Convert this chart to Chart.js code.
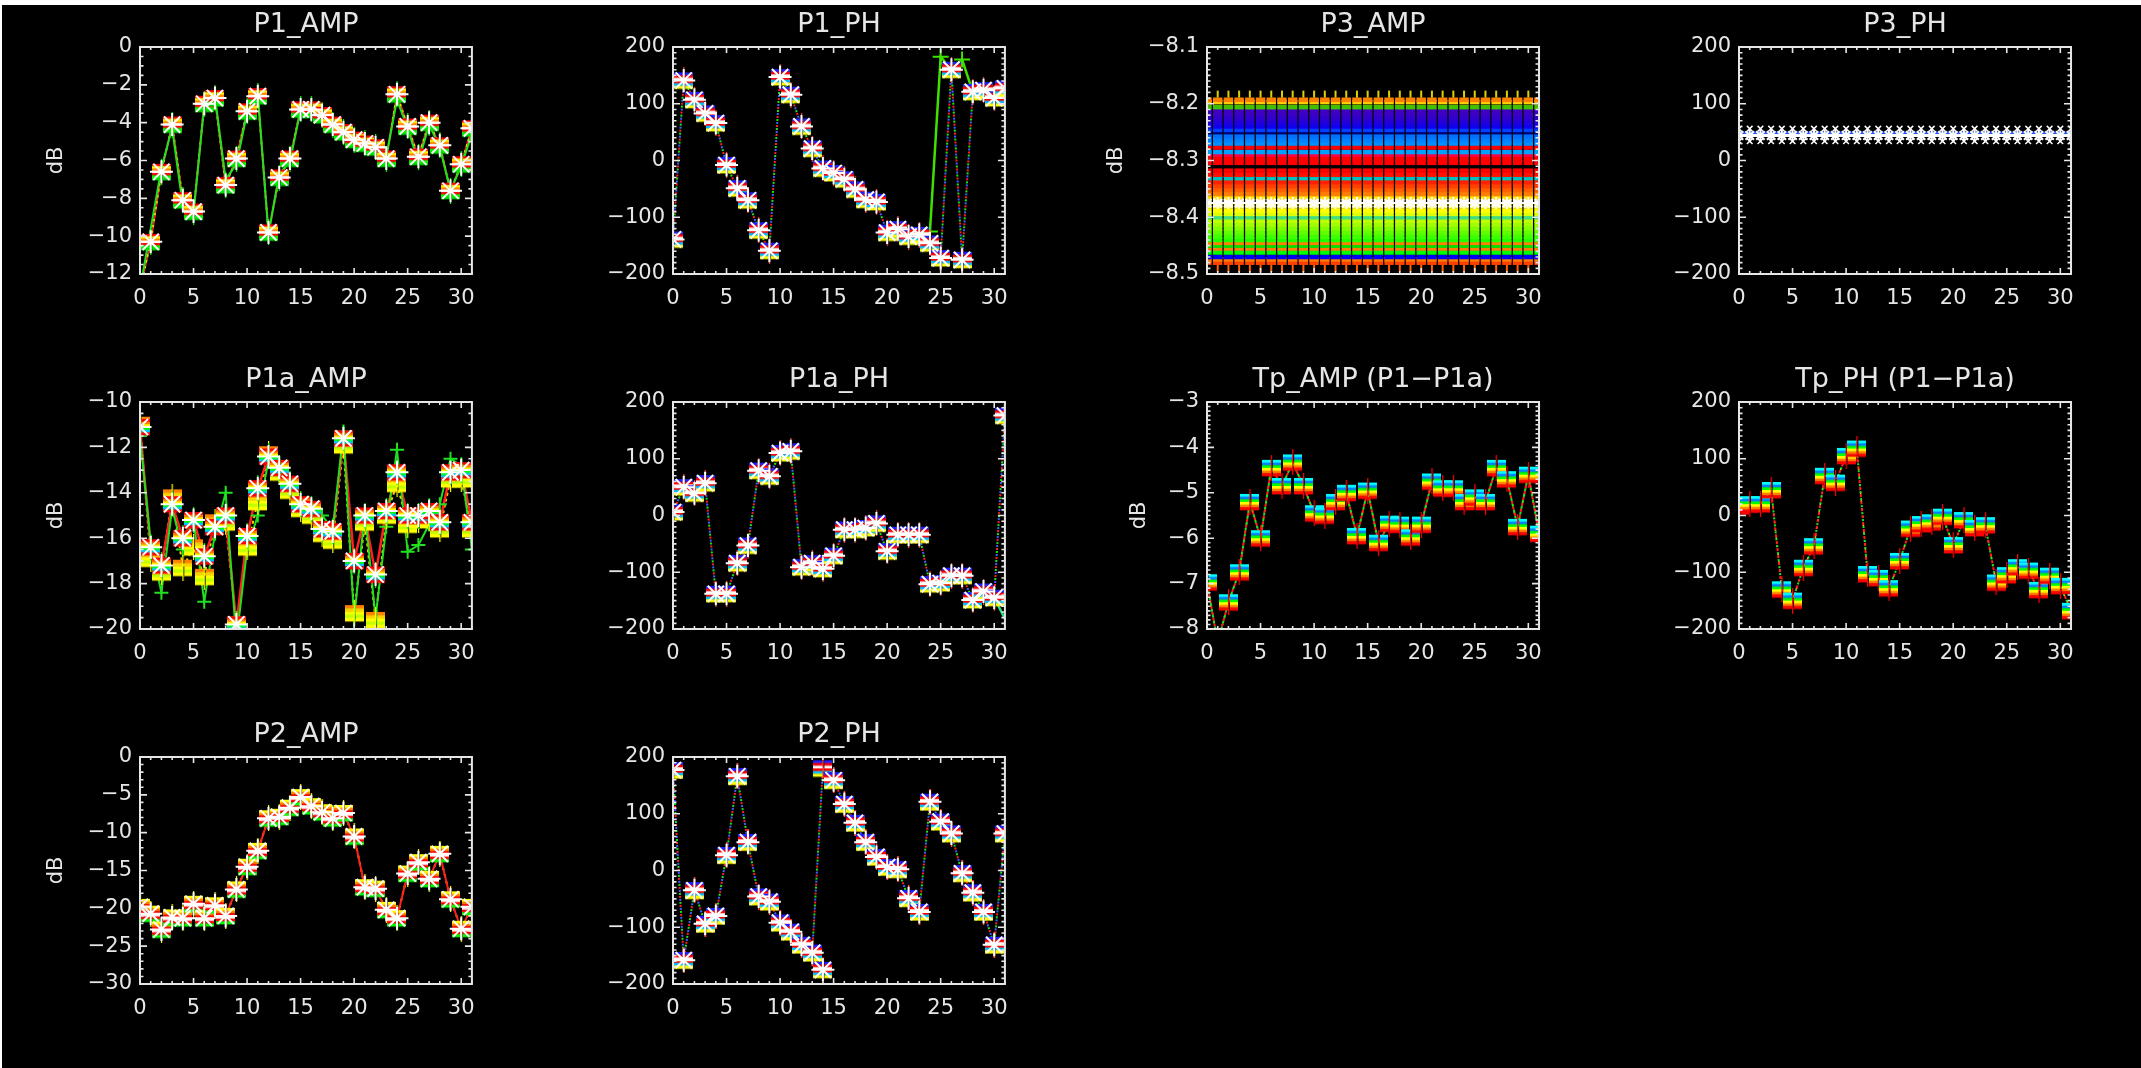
<!DOCTYPE html>
<html>
<head>
<meta charset="utf-8">
<script src="https://cdn.jsdelivr.net/npm/chart.js@4.4.1/dist/chart.umd.min.js"></script>
<style>
html, body { margin: 0; padding: 0; background: #fff; width: 2141px; height: 1068px; overflow: hidden; }
#bg { position: absolute; left: 2px; top: 5px; right: 0; bottom: 0; background: #000; }
canvas { position: absolute; }
</style>
</head>
<body>
<div id="bg"></div>
<script>
// ---- data ----
const X = [0,1,2,3,4,5,6,7,8,9,10,11,12,13,14,15,16,17,18,19,20,21,22,23,24,25,26,27,28,29,30,31];
const XTICKS = [0,5,10,15,20,25,30];

const YT_P1_AMP = [-12,-10,-8,-6,-4,-2,0];
const YT_PH = [-200,-100,0,100,200];
const YT_P3_AMP = [-8.5,-8.4,-8.3,-8.2,-8.1];
const YT_P1A_AMP = [-20,-18,-16,-14,-12,-10];
const YT_TP_AMP = [-8,-7,-6,-5,-4,-3];
const YT_P2_AMP = [-30,-25,-20,-15,-10,-5,0];

const P1_AMP = [-12.8,-10.3,-6.6,-4.1,-8.1,-8.7,-3.0,-2.7,-7.3,-5.9,-3.4,-2.6,-9.8,-6.9,-5.9,-3.3,-3.3,-3.6,-4.1,-4.5,-4.9,-5.1,-5.3,-5.9,-2.5,-4.2,-5.8,-4.0,-5.2,-7.6,-6.2,-4.3];
const P1_AMP_G = [-12.8,-9.6,-6.4,-4.3,-8.4,-8.8,-3.1,-2.6,-7.0,-6.2,-3.5,-2.4,-9.9,-6.7,-6.1,-3.3,-3.3,-3.6,-4.1,-4.4,-4.9,-5.1,-5.3,-5.8,-2.8,-4.3,-6.1,-4.1,-5.3,-7.6,-6.3,-4.6];

const P1_PH = [-139,141,107,83,66,-8,-49,-70,-123,-159,147,116,60,21,-14,-22,-33,-51,-69,-73,-127,-121,-134,-131,-146,-172,160,-175,121,124,110,127];
const P1_PH_G = [null,null,null,null,null,null,null,null,null,null,null,null,null,null,null,null,null,null,null,null,null,null,null,-131,-125,183,160,178,121,null,null,null];

const P3_AMP_LEVELS = [-8.193,-8.197,-8.206,-8.212,-8.219,-8.226,-8.233,-8.240,-8.246,-8.250,-8.257,-8.264,-8.270,-8.277,-8.285,-8.290,-8.297,-8.304,-8.318,-8.325,-8.331,-8.338,-8.345,-8.352,-8.359,-8.366,-8.373,-8.380,-8.388,-8.394,-8.400,-8.406,-8.413,-8.420,-8.427,-8.434,-8.440,-8.445,-8.450,-8.455,-8.462,-8.470,-8.474,-8.480];
const P3_AMP_STAR = -8.375;
const P3_AMP_TOP = -8.183;
const P3_AMP_BOT = -8.490;

const P3_PH_LEVELS = [56, 49, 44, 34];

const P1A_AMP = [-11.1,-16.4,-17.2,-14.5,-16.0,-15.2,-16.8,-15.5,-15.0,-19.8,-15.9,-13.8,-12.4,-12.9,-13.6,-14.5,-14.7,-15.6,-15.7,-11.6,-17.0,-15.0,-17.6,-14.8,-13.1,-15.0,-15.0,-14.8,-15.3,-13.1,-13.0,-15.3];
const P1A_AMP_G = [-11.5,-16.2,-18.4,-14.7,-16.5,-15.2,-18.8,-15.8,-14.0,-20.5,-16.5,-15.0,-12.6,-13.2,-13.8,-14.5,-14.6,-15.0,-15.6,-11.3,-19.6,-14.8,-19.5,-15.5,-12.1,-16.6,-16.3,-15.4,-14.5,-12.5,-12.8,-16.5];
const P1A_AMP_Y = [-11.0,-16.9,-17.5,-14.2,-17.3,-16.4,-17.7,-15.3,-15.3,-19.8,-16.4,-14.4,-12.3,-13.1,-13.9,-14.7,-15.0,-15.8,-16.1,-11.9,-19.3,-15.3,-19.6,-15.0,-13.6,-15.4,-15.2,-15.1,-15.6,-13.4,-13.4,-15.6];

const P1A_PH = [6,50,39,57,-138,-138,-84,-53,79,69,110,113,-91,-84,-94,-71,-25,-25,-22,-14,-63,-34,-34,-34,-121,-119,-106,-106,-149,-134,-145,176];
const P1A_PH_G = [null,null,null,null,null,null,null,null,null,null,null,null,null,null,null,null,null,null,null,null,null,null,null,null,null,null,null,null,null,null,-145,-182];

const TP_AMP = [-6.97,-8.3,-7.41,-6.75,-5.2,-6.0,-4.45,-4.85,-4.33,-4.85,-5.45,-5.5,-5.2,-5.0,-5.95,-4.95,-6.1,-5.68,-5.7,-5.98,-5.7,-4.75,-4.9,-4.9,-5.2,-5.1,-5.2,-4.45,-4.7,-5.75,-4.6,-5.9];
const TP_PH = [16,20,20,45,-130,-150,-92,-54,70,58,105,118,-103,-110,-128,-80,-23,-15,-12,-2,-52,-8,-22,-17,-118,-105,-91,-97,-131,-106,-124,-168];

const P2_AMP = [-19.8,-20.7,-22.8,-21.2,-21.3,-19.4,-21.3,-19.6,-21.0,-17.5,-14.5,-12.4,-8.1,-7.9,-6.7,-5.3,-6.5,-7.3,-8.1,-7.4,-10.5,-17.2,-17.4,-20.2,-21.3,-15.4,-13.9,-16.1,-12.8,-18.8,-22.7,-19.8];
const P2_PH = [177,-158,-35,-94,-80,27,166,50,-46,-55,-92,-108,-131,-145,-175,159,117,84,50,24,6,2,-49,-73,121,86,65,-5,-39,-73,-131,65];
const P2_PH_R = [177,-158,-35,-94,-80,27,166,50,-46,-55,-92,-108,-131,-145,180,159,117,84,50,24,6,2,-49,-73,121,86,65,-5,-39,-73,-131,65];

// ---- styles / layout ----
const FG = '#e6e6e6';
const COL_LEFT = [140, 673, 1207, 1739];
const ROW_TOP = [47, 402, 757];
const PLOT_W = 337, PLOT_H = 227, LEFT_W = 140, TOP_H = 47, BOTTOM_H = 60, RIGHT_PAD = 10;
const P3_AMP_COLORS = ['#ff8000','#ffd000','#40c000','#4000c0','#3c00c8','#3000d0','#2000e0','#1000f0','#0040ff','#000070','#0070ff','#0080ff','#0090ff','#ff0000','#00a0ff','#ff0040','#ff0000','#ff0000','#ff0000','#ff1000','#00c0c0','#ff2000','#ff4000','#ff6000','#ff8000','#ffe000','#ffffff','#ffff60','#ffff00','#e0ff00','#40e080','#c0ff00','#a0ff00','#80ff00','#60ff00','#40ff00','#20ff00','#ff8000','#00e000','#ff8000','#00ff00','#0000ff','#ff8000','#ff4000'];
const P3_PH_COLORS = ['#ffffff','#2050ff','#ffffff','#ffffff'];

Chart.defaults.font.family = '"DejaVu Sans", sans-serif';
Chart.defaults.font.size = 21;
Chart.defaults.color = FG;

const pts = vals => X.map((x, i) => ({ x: x, y: vals[i] }));
const flat = v => X.map(x => ({ x: x, y: v }));

// rainbow striped square marker, like many overplotted colour channels
function stripes(cols, vcol) {
  const c = document.createElement('canvas');
  c.width = 19; c.height = 26;
  const g = c.getContext('2d');
  const h = 16 / cols.length;
  cols.forEach((col, i) => { g.fillStyle = col; g.fillRect(0, 5 + i * h, 19, h + 0.4); });
  g.clearRect(8.5, 5, 2, 16);
  g.fillStyle = vcol;
  g.fillRect(9, 0, 1.2, 26);
  return c;
}

const IMG_P1A = stripes(['#ff0000','#ffff00','#ff8000','#ffffff','#ff0000','#00ff00','#00e000'], '#00ff00');
const IMG_PH = stripes(['#2020ff','#ff0000','#ffffff','#ff0000','#00c0ff','#ffff00'], '#ff4040');
const IMG_P2A = stripes(['#ffff00','#ff8000','#ff0000','#ffffff','#ff0000','#00ff00'], '#ffff00');
const IMG_TP = stripes(['#00ffff','#0080ff','#00ff00','#ffff00','#ff8000','#ff0000'], '#ff0000');
const IMG_P1AA = stripes(['#ff0000','#ff8000','#ffff00','#00ff00','#00c0ff','#ff0000'], '#00ff00');
const IMG_P1AY = stripes(['#ff8000','#ffd000','#ffff00','#c0ff00','#ffff00'], '#ffff00');

function lineDs(vals, color, width, dash, off) {
  return { data: pts(vals), showLine: true, borderColor: color, borderWidth: width,
    borderDash: dash || [], borderDashOffset: off || 0, pointRadius: 0, clip: 0, order: 3 };
}
function boxDs(vals, img) {
  return { data: pts(vals), showLine: false, pointStyle: img, pointRadius: 8, clip: 0, order: 2 };
}
function starDs(vals, r) {
  return { data: pts(vals), showLine: false, pointStyle: 'star', pointRadius: r || 11.5,
    pointBorderColor: '#ffffff', pointBackgroundColor: '#ffffff', pointBorderWidth: 2, clip: 0, order: 1 };
}
function dotted(vals) {
  return [
    lineDs(vals, '#ff2020', 2, [2, 7], 0),
    lineDs(vals, '#20e020', 2, [2, 7], 3),
    lineDs(vals, '#4060ff', 2, [2, 7], 6)
  ];
}

const idlFrame = {
  id: 'idlFrame',
  afterDatasetsDraw(chart, args, o) {
    const ctx = chart.ctx, a = chart.chartArea;
    const xs = chart.scales.x, ys = chart.scales.y;
    ctx.save();
    ctx.strokeStyle = FG;
    ctx.lineWidth = 2;
    ctx.strokeRect(a.left, a.top, a.right - a.left, a.bottom - a.top);
    ctx.lineWidth = 1.6;
    ctx.beginPath();
    for (let v = 0; v <= 31; v++) {
      const p = xs.getPixelForValue(v);
      const len = v % 5 === 0 ? 6 : 3;
      ctx.moveTo(p, a.bottom); ctx.lineTo(p, a.bottom - len);
      ctx.moveTo(p, a.top); ctx.lineTo(p, a.top + len);
    }
    const n = Math.round((ys.max - ys.min) / o.minor);
    for (let i = 0; i <= n; i++) {
      const v = ys.min + i * o.minor;
      const q = (v - ys.min) / o.major;
      const len = Math.abs(q - Math.round(q)) < 1e-6 ? 7 : 3.5;
      const p = ys.getPixelForValue(v);
      ctx.moveTo(a.left, p); ctx.lineTo(a.left + len, p);
      ctx.moveTo(a.right, p); ctx.lineTo(a.right - len, p);
    }
    ctx.stroke();
    ctx.fillStyle = FG;
    ctx.textAlign = 'center';
    ctx.textBaseline = 'middle';
    ctx.font = '27px "DejaVu Sans"';
    ctx.fillText(o.title, (a.left + a.right) / 2, a.top - 22);
    if (o.ylabel) {
      ctx.translate(a.left - o.dbOff, (a.top + a.bottom) / 2);
      ctx.rotate(-Math.PI / 2);
      ctx.font = '21px "DejaVu Sans"';
      ctx.fillText(o.ylabel, 0, 0);
    }
    ctx.restore();
  }
};

function panel(col, row, spec) {
  const c = document.createElement('canvas');
  c.width = LEFT_W + PLOT_W + RIGHT_PAD;
  c.height = TOP_H + PLOT_H + BOTTOM_H;
  c.style.left = (COL_LEFT[col] - LEFT_W) + 'px';
  c.style.top = (ROW_TOP[row] - TOP_H) + 'px';
  document.body.appendChild(c);
  const yt = spec.yTicks;
  new Chart(c, {
    type: 'scatter',
    data: { datasets: spec.datasets },
    plugins: [idlFrame],
    options: {
      responsive: false, animation: false, devicePixelRatio: 1,
      layout: { padding: { top: TOP_H, right: RIGHT_PAD, left: 0, bottom: 0 } },
      plugins: {
        legend: { display: false }, tooltip: { enabled: false },
        idlFrame: { title: spec.title, ylabel: spec.ylabel, dbOff: spec.dbOff, major: spec.major, minor: spec.minor }
      },
      scales: {
        x: {
          type: 'linear', min: 0, max: 31,
          afterFit: s => { s.height = BOTTOM_H; },
          afterBuildTicks: s => { s.ticks = XTICKS.map(v => ({ value: v })); },
          grid: { display: false, drawTicks: false }, border: { display: false },
          ticks: { padding: 12, maxRotation: 0, autoSkip: false }
        },
        y: {
          type: 'linear', min: yt[0], max: yt[yt.length - 1],
          afterFit: s => { s.width = LEFT_W; },
          afterBuildTicks: s => { s.ticks = yt.map(v => ({ value: v })); },
          grid: { display: false, drawTicks: false }, border: { display: false },
          ticks: { padding: 8, autoSkip: false, callback: v => String(v).replace('-', '\u2212') }
        }
      }
    }
  });
}

// P1_AMP
panel(0, 0, {
  title: 'P1_AMP', ylabel: 'dB', dbOff: 83, yTicks: YT_P1_AMP, major: 2, minor: 0.5,
  datasets: [
    starDs(P1_AMP), boxDs(P1_AMP, IMG_P1A),
    lineDs(P1_AMP_G, '#20e020', 2),
    lineDs(P1_AMP, '#ff2020', 2, [3, 3], 0),
    lineDs(P1_AMP, '#ffd000', 2, [3, 3], 3)
  ]
});

// P1_PH
panel(1, 0, {
  title: 'P1_PH', yTicks: YT_PH, major: 100, minor: 10,
  datasets: [
    starDs(P1_PH), boxDs(P1_PH, IMG_PH),
    Object.assign(lineDs(P1_PH_G, '#40e000', 2.5), { pointStyle: 'cross', pointRadius: 8, pointBorderColor: '#40e000', pointBorderWidth: 2 }),
    ...dotted(P1_PH)
  ]
});

// P3_AMP
panel(2, 0, {
  title: 'P3_AMP', ylabel: 'dB', dbOff: 90, yTicks: YT_P3_AMP, major: 0.1, minor: 0.01,
  datasets: [
    starDs(X.map(() => P3_AMP_STAR), 6),
    { data: flat(P3_AMP_TOP), showLine: false, pointStyle: 'line', rotation: 90, pointRadius: 3.5, pointBorderColor: '#e0d000', pointBorderWidth: 2, clip: 0, order: 1 },
    { data: flat(P3_AMP_BOT), showLine: false, pointStyle: 'line', rotation: 90, pointRadius: 3.5, pointBorderColor: '#ff6000', pointBorderWidth: 2, clip: 0, order: 1 },
    ...P3_AMP_LEVELS.map((v, i) => ({
      data: flat(v), showLine: false, pointStyle: 'line', pointRadius: 4.7,
      pointBorderColor: P3_AMP_COLORS[i], pointBorderWidth: 4.6, clip: 0, order: 2 + i
    }))
  ]
});

// P3_PH
panel(3, 0, {
  title: 'P3_PH', yTicks: YT_PH, major: 100, minor: 10,
  datasets: [
    starDs(X.map(() => P3_PH_LEVELS[2]), 6),
    { data: flat(P3_PH_LEVELS[0]), showLine: false, pointStyle: 'crossRot', pointRadius: 4, pointBorderColor: '#ffffff', pointBorderWidth: 1.5, clip: 0, order: 1 },
    { data: flat(P3_PH_LEVELS[3]), showLine: false, pointStyle: 'crossRot', pointRadius: 4, pointBorderColor: '#ffffff', pointBorderWidth: 1.5, clip: 0, order: 1 },
    { data: flat(P3_PH_LEVELS[1]), showLine: true, borderColor: P3_PH_COLORS[1], borderWidth: 2.5, pointRadius: 0, clip: 0, order: 2 },
    { data: flat(P3_PH_LEVELS[2]), showLine: true, borderColor: P3_PH_COLORS[2], borderWidth: 3, pointRadius: 0, clip: 0, order: 3 }
  ]
});

// P1a_AMP
panel(0, 1, {
  title: 'P1a_AMP', ylabel: 'dB', dbOff: 83, yTicks: YT_P1A_AMP, major: 2, minor: 0.5,
  datasets: [
    starDs(P1A_AMP), boxDs(P1A_AMP, IMG_P1AA),
    Object.assign(boxDs(P1A_AMP_Y, IMG_P1AY), { order: 2.5 }),
    Object.assign(lineDs(P1A_AMP_G, '#20e020', 2), { pointStyle: 'cross', pointRadius: 7, pointBorderColor: '#20e020', pointBorderWidth: 2 }),
    lineDs(P1A_AMP, '#ff2020', 2.5),
    lineDs(P1A_AMP_Y, '#ffd000', 2, [3, 3], 0)
  ]
});

// P1a_PH
panel(1, 1, {
  title: 'P1a_PH', yTicks: YT_PH, major: 100, minor: 10,
  datasets: [
    starDs(P1A_PH), boxDs(P1A_PH, IMG_PH),
    lineDs(P1A_PH_G, '#20e080', 2.5),
    ...dotted(P1A_PH)
  ]
});

// Tp_AMP
panel(2, 1, {
  title: 'Tp_AMP (P1\u2212P1a)', ylabel: 'dB', dbOff: 67, yTicks: YT_TP_AMP, major: 1, minor: 0.1,
  datasets: [
    boxDs(TP_AMP, IMG_TP),
    lineDs(TP_AMP, '#ff2020', 2, [3, 3], 0),
    lineDs(TP_AMP, '#20e020', 2, [3, 3], 3),
    lineDs(TP_AMP, '#ffd000', 1.5, [2, 6], 1)
  ]
});

// Tp_PH
panel(3, 1, {
  title: 'Tp_PH (P1\u2212P1a)', yTicks: YT_PH, major: 100, minor: 10,
  datasets: [
    boxDs(TP_PH, IMG_TP),
    lineDs(TP_PH, '#ff2020', 2, [3, 4], 0),
    lineDs(TP_PH, '#20e020', 2, [2, 5], 3),
    lineDs(TP_PH, '#ffd000', 1.5, [2, 6], 1)
  ]
});

// P2_AMP
panel(0, 2, {
  title: 'P2_AMP', ylabel: 'dB', dbOff: 83, yTicks: YT_P2_AMP, major: 5, minor: 1,
  datasets: [
    starDs(P2_AMP), boxDs(P2_AMP, IMG_P2A),
    lineDs(P2_AMP, '#ff2020', 2),
    lineDs(P2_AMP, '#ffd000', 2, [3, 4], 2)
  ]
});

// P2_PH
panel(1, 2, {
  title: 'P2_PH', yTicks: YT_PH, major: 100, minor: 10,
  datasets: [
    starDs(P2_PH), boxDs(P2_PH, IMG_PH),
    Object.assign(boxDs(P2_PH_R, IMG_PH), { order: 2.5 }),
    ...dotted(P2_PH_R)
  ]
});
</script>
</body>
</html>
